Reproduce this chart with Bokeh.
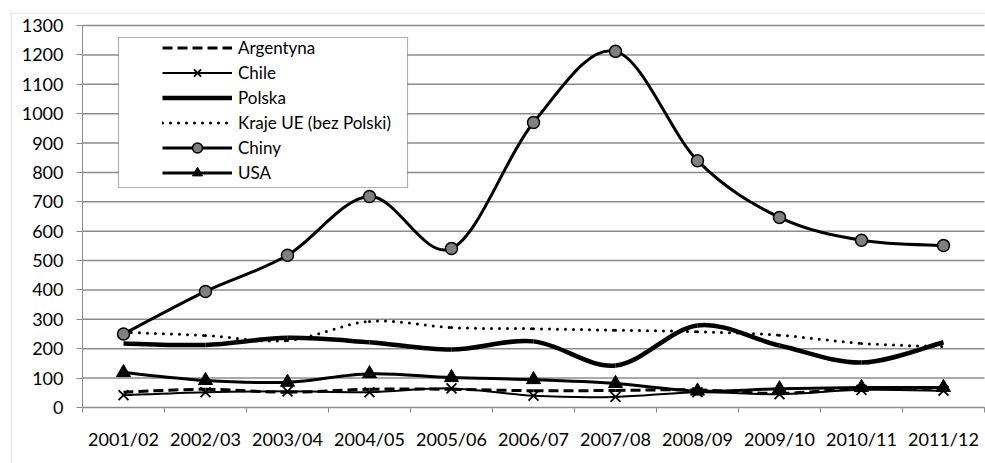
from bokeh.plotting import figure
from bokeh.models import (FixedTicker, Legend, LegendItem, BoxAnnotation, ColumnDataSource)
from bokeh.embed import file_html
from bokeh.resources import INLINE

categories = ["2001/02", "2002/03", "2003/04", "2004/05", "2005/06", "2006/07",
              "2007/08", "2008/09", "2009/10", "2010/11", "2011/12"]
argentyna = [52, 62, 52, 62, 62, 57, 58, 60, 48, 65, 65]
chile = [42, 52, 55, 52, 65, 40, 36, 52, 45, 60, 57]
polska = [218, 213, 237, 222, 197, 225, 143, 279, 211, 153, 222]
kraje_ue = [256, 245, 228, 293, 272, 268, 263, 258, 246, 218, 207]
chiny = [250, 395, 518, 718, 541, 970, 1212, 840, 647, 569, 551]
usa = [119, 92, 86, 115, 102, 95, 82, 56, 64, 68, 68]
y_ticks = list(range(0, 1301, 100))

FONT = "Lato"
GRID = "#8c8c8c"

# layout (pixels): whole chart area is the frame, so that the outer chart border
# (left/top edges only, as in the cropped reference) can be drawn inside it
W, H = 985, 463
FL, FT = 10, 12            # frame left / top = chart border position
AX_L, AX_R = 82, 984       # plot area left/right
AX_T, AX_B = 25, 407       # plot area top/bottom
n = len(categories)
x_lo, x_hi = -0.5, n - 0.5
y_lo, y_hi = y_ticks[0], y_ticks[-1]
ppx = (AX_R - AX_L) / (x_hi - x_lo)
ppy = (AX_B - AX_T) / (y_hi - y_lo)
xr = (x_lo - (AX_L - FL) / ppx, x_hi + (W - AX_R) / ppx)
yr = (y_lo - (H - AX_B) / ppy, y_hi + (AX_T - FT) / ppy)

xs = list(range(n))

p = figure(width=W, height=H, x_range=xr, y_range=yr,
           output_backend="svg", toolbar_location=None,
           min_border_left=FL, min_border_right=0, min_border_top=FT, min_border_bottom=0)
p.outline_line_color = None
p.background_fill_color = "white"
p.border_fill_color = "white"

# outer chart border
p.add_layout(BoxAnnotation(left=xr[0] + 0.5 / ppx, right=xr[1] + 5, top=yr[1] - 0.5 / ppy,
                           bottom=yr[0] - 50, fill_alpha=0, line_color=GRID, line_width=1.2,
                           level="underlay"))

# grid lines over the plot area
p.xgrid.visible = False
p.ygrid.visible = False
p.segment(x0=x_lo, x1=x_hi, y0=y_ticks, y1=y_ticks, line_color=GRID, line_width=1.5)

# axes fixed at the plot area edges
p.xaxis.fixed_location = y_lo
p.xaxis.bounds = (x_lo, x_hi)
p.xaxis.ticker = FixedTicker(ticks=xs, minor_ticks=[i - 0.5 for i in range(n + 1)])
p.xaxis.major_label_overrides = {i: c for i, c in enumerate(categories)}
p.xaxis.major_tick_out = 0
p.xaxis.major_tick_in = 0
p.xaxis.minor_tick_out = 5
p.xaxis.minor_tick_in = 0
p.xaxis.minor_tick_line_color = GRID
p.xaxis.axis_line_color = GRID
p.xaxis.major_label_standoff = 15
p.yaxis.fixed_location = x_lo
p.yaxis.bounds = (y_lo, y_hi)
p.yaxis.ticker = FixedTicker(ticks=y_ticks)
p.yaxis.major_tick_out = 6
p.yaxis.major_tick_in = 0
p.yaxis.minor_tick_line_color = None
p.yaxis.major_tick_line_color = GRID
p.yaxis.axis_line_color = GRID
p.yaxis.major_label_standoff = 13
for ax in (p.xaxis, p.yaxis):
    ax.major_label_text_font = FONT
    ax.major_label_text_font_size = "18px"
    ax.major_label_text_color = "#000000"


def smooth(x, y):
    m = len(x)
    d = dict(x0=[], y0=[], x1=[], y1=[], cx0=[], cy0=[], cx1=[], cy1=[])
    for i in range(m - 1):
        a = max(i - 1, 0)
        b = min(i + 2, m - 1)
        d["x0"].append(x[i]); d["y0"].append(y[i])
        d["x1"].append(x[i + 1]); d["y1"].append(y[i + 1])
        d["cx0"].append(x[i] + (x[i + 1] - x[a]) / 6)
        d["cy0"].append(y[i] + (y[i + 1] - y[a]) / 6)
        d["cx1"].append(x[i + 1] - (x[b] - x[i]) / 6)
        d["cy1"].append(y[i + 1] - (y[b] - y[i]) / 6)
    return ColumnDataSource(d)


def curve(vals, **kw):
    return p.bezier(x0="x0", y0="y0", x1="x1", y1="y1", cx0="cx0", cy0="cy0",
                    cx1="cx1", cy1="cy1", source=smooth(xs, vals), line_color="black", **kw)

r_kraje = curve(kraje_ue, line_width=3, line_dash="0 8", line_cap="round")
r_pol = curve(polska, line_width=4.5)
r_arg = curve(argentyna, line_width=3, line_dash="10 5")
r_chi = curve(chile, line_width=2)
m_chi = p.scatter(xs, chile, marker="x", size=14, line_color="black", line_width=1.8)
r_usa = curve(usa, line_width=3)
m_usa = p.scatter(xs, usa, marker="triangle", size=14, fill_color="black", line_color="black")
r_chn = curve(chiny, line_width=3)
m_chn = p.scatter(xs, chiny, marker="circle", size=12, fill_color="#808080",
                  line_color="black", line_width=1.5)

# legend box (white with black frame): pixels 118..407 x 37..187
LB_L, LB_R, LB_T, LB_B = 118, 407, 37, 187
p.add_layout(BoxAnnotation(left=x_lo + (LB_L - AX_L) / ppx, right=x_lo + (LB_R - AX_L) / ppx,
                           top=y_lo + (AX_B - LB_T) / ppy, bottom=y_lo + (AX_B - LB_B) / ppy,
                           fill_color="white", fill_alpha=1, line_color="black", line_width=1.2))

legend = Legend(items=[
    LegendItem(label="Argentyna", renderers=[r_arg]),
    LegendItem(label="Chile", renderers=[r_chi, m_chi]),
    LegendItem(label="Polska", renderers=[r_pol]),
    LegendItem(label="Kraje UE (bez Polski)", renderers=[r_kraje]),
    LegendItem(label="Chiny", renderers=[r_chn, m_chn]),
    LegendItem(label="USA", renderers=[r_usa, m_usa]),
], location=(162 - FL, H - 185), orientation="vertical")
legend.padding = 0
legend.margin = 0
legend.border_line_color = None
legend.background_fill_alpha = 0
legend.glyph_width = 70
legend.glyph_height = 25
legend.label_height = 25
legend.spacing = 0
legend.label_standoff = 6
legend.label_text_font = FONT
legend.label_text_font_size = "17px"
legend.label_text_color = "#000000"
p.add_layout(legend, "center")

open("out.html", "w").write(file_html(p, INLINE))
